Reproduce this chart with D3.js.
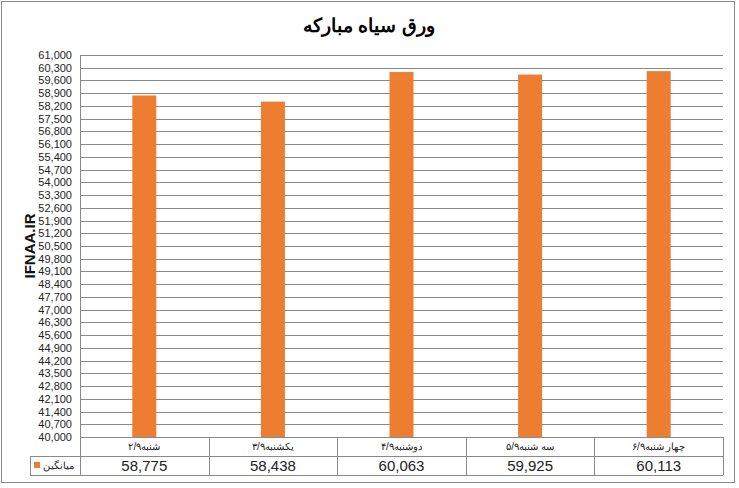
<!DOCTYPE html>
<html><head><meta charset="utf-8">
<script src="https://cdn.jsdelivr.net/npm/d3@7"></script>
<style>body{margin:0;background:#fff}svg{display:block}</style>
</head><body>
<svg id="c" width="739" height="488"></svg>
<script>
const title = "ورق سیاه مبارکه";
const categories = ["شنبه۲/۹", "یکشنبه۳/۹", "دوشنبه۴/۹", "سه شنبه۵/۹", "چهار شنبه۶/۹"];
const seriesName = "میانگین";
const values = [58775, 58438, 60063, 59925, 60113];
const yMin = 40000, yMax = 61000, yStep = 700;
const yLabel = "IFNAA.IR";

const svg = d3.select("#c");
const m = {left: 80, right: 723, top: 55, bottom: 437};
const rowMid = 456, rowBot = 475, legLeft = 30;
const grid = "#8a8a8a", col = "#ED7D31", font = "Liberation Sans, Arial, sans-serif";

svg.append("rect").attr("x", 1.5).attr("y", 1.5).attr("width", 733).attr("height", 481)
  .attr("fill", "#fff").attr("stroke", "#8a8a8a").attr("stroke-width", 1);

svg.append("text").attr("x", 369).attr("y", 32).attr("text-anchor", "middle")
  .attr("font-family", font).attr("font-weight", "bold").attr("font-size", 19)
  .text(title);

const x = d3.scaleBand().domain(categories).range([m.left, m.right]).paddingInner(0).paddingOuter(0);
const y = d3.scaleLinear().domain([yMin, yMax]).range([m.bottom, m.top]);
const ticks = d3.range(yMin, yMax + 1, yStep);

svg.append("g").selectAll("line").data(ticks).join("line")
  .attr("x1", m.left).attr("x2", m.right)
  .attr("y1", d => Math.round(y(d)) + 0.5).attr("y2", d => Math.round(y(d)) + 0.5)
  .attr("stroke", grid).attr("stroke-width", 1);

const yAxis = d3.axisLeft(y).tickValues(ticks).tickSize(0).tickPadding(8).tickFormat(d3.format(","));
const ga = svg.append("g").attr("transform", `translate(${m.left},0)`).call(yAxis);
ga.select(".domain").remove();
ga.selectAll("text").attr("font-family", font).attr("font-size", 11).attr("fill", "#222");

svg.append("text").attr("transform", `translate(35,${(m.top + m.bottom) / 2}) rotate(-90)`)
  .attr("text-anchor", "middle").attr("font-family", font).attr("font-weight", "bold")
  .attr("font-size", 15).attr("fill", "#111").text(yLabel);

const bw = 24;
svg.append("g").selectAll("rect").data(values).join("rect")
  .attr("x", (d, i) => x(categories[i]) + x.bandwidth() / 2 - bw / 2)
  .attr("width", bw)
  .attr("y", d => y(d)).attr("height", d => y(yMin) - y(d))
  .attr("fill", col);

// table
const tg = svg.append("g").attr("stroke", grid).attr("stroke-width", 1).attr("fill", "none");
tg.append("line").attr("x1", m.left).attr("x2", m.right).attr("y1", m.bottom + 0.5).attr("y2", m.bottom + 0.5);
tg.append("line").attr("x1", legLeft).attr("x2", m.right).attr("y1", rowMid + 0.5).attr("y2", rowMid + 0.5);
tg.append("line").attr("x1", legLeft).attr("x2", m.right).attr("y1", rowBot + 0.5).attr("y2", rowBot + 0.5);
tg.append("line").attr("x1", m.left + 0.5).attr("x2", m.left + 0.5).attr("y1", m.top).attr("y2", rowBot);
tg.append("line").attr("x1", legLeft + 0.5).attr("x2", legLeft + 0.5).attr("y1", rowMid).attr("y2", rowBot);
categories.forEach(c => {
  const xe = Math.round(x(c) + x.bandwidth()) + 0.5;
  tg.append("line").attr("x1", xe).attr("x2", xe).attr("y1", m.bottom).attr("y2", rowBot);
});

svg.append("g").selectAll("text").data(categories).join("text")
  .attr("x", d => x(d) + x.bandwidth() / 2).attr("y", 450)
  .attr("text-anchor", "middle").attr("font-family", font).attr("font-size", 10)
  .attr("fill", "#222").text(d => d);

svg.append("g").selectAll("text").data(values).join("text")
  .attr("x", (d, i) => x(categories[i]) + x.bandwidth() / 2).attr("y", 471)
  .attr("text-anchor", "middle").attr("font-family", font).attr("font-size", 15)
  .attr("fill", "#222").text(d => d3.format(",")(d));

svg.append("rect").attr("x", 34).attr("y", 462).attr("width", 6).attr("height", 6).attr("fill", col);
svg.append("text").attr("x", 43).attr("y", 469).attr("font-family", font).attr("font-size", 10)
  .attr("fill", "#222").text(seriesName);
</script>
</body></html>
